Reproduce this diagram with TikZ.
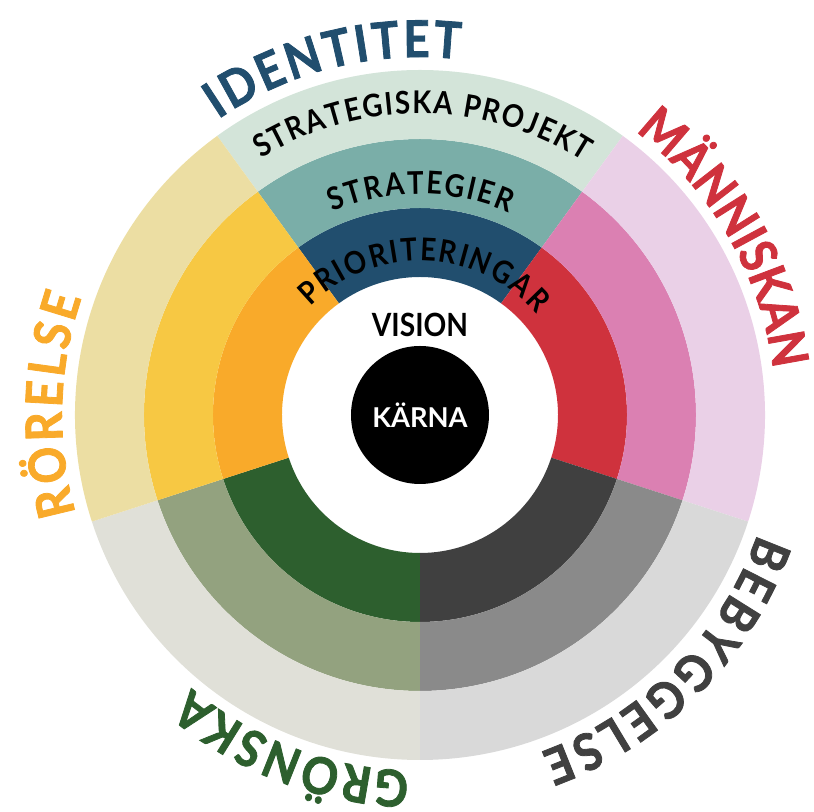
\documentclass[tikz,border=0pt]{standalone}
\usepackage{fontspec}
\setmainfont{Lato}
\newfontfamily\narrowlato{Lato}[FakeStretch=0.88]
\newfontfamily\heavylato{Lato}[FakeStretch=0.9, FakeBold=1.6]
\usetikzlibrary{decorations.text}

\definecolor{idA}{HTML}{214E6E}
\definecolor{idB}{HTML}{7AAEA8}
\definecolor{idC}{HTML}{D3E4D9}
\definecolor{roA}{HTML}{F9AA2A}
\definecolor{roB}{HTML}{F7C843}
\definecolor{roC}{HTML}{ECDEA3}
\definecolor{grA}{HTML}{2D5F2E}
\definecolor{grB}{HTML}{93A27F}
\definecolor{grC}{HTML}{E0E0D8}
\definecolor{beA}{HTML}{404040}
\definecolor{beB}{HTML}{8A8A8A}
\definecolor{beC}{HTML}{D9D9D9}
\definecolor{maA}{HTML}{CF323D}
\definecolor{maB}{HTML}{DB80B2}
\definecolor{maC}{HTML}{EAD0E7}

% one piece of a ring: colour, start angle, inner radius, outer radius
\newcommand{\ringpiece}[4]{%
  \fill[#1] (#2:#3) arc[start angle=#2, end angle={#2+72}, radius=#3]
    -- ({#2+72}:#4) arc[start angle={#2+72}, end angle=#2, radius=#4] -- cycle;}
\newcommand{\areafont}[1]{\heavylato\fontsize{38}{40}\selectfont\bfseries\color{#1}}
\newcommand{\ringfont}{\narrowlato\fontsize{23.5}{26}\selectfont\bfseries\color{black}}

\tikzset{
  arclabel/.style={decorate, decoration={text along path,
      text align=fit to path, text={#1}}},
  core/.style={circle, fill=black, minimum size=103.5pt, inner sep=0pt,
      text=white, font=\fontsize{20.5}{22}\selectfont\bfseries},
}

\begin{document}
\begin{tikzpicture}[x=0.75pt,y=0.75pt]
    \useasboundingbox (-420,-397) rectangle (394,415);

    % identitet
    \ringpiece{idA}{54}{138}{207}
    \ringpiece{idB}{54}{207}{276}
    \ringpiece{idC}{54}{276}{345}
    % manniskan
    \ringpiece{maA}{-18}{138}{207}
    \ringpiece{maB}{-18}{207}{276}
    \ringpiece{maC}{-18}{276}{345}
    % bebyggelse
    \ringpiece{beA}{270}{138}{207}
    \ringpiece{beB}{270}{207}{276}
    \ringpiece{beC}{270}{276}{345}
    % gronska
    \ringpiece{grA}{198}{138}{207}
    \ringpiece{grB}{198}{207}{276}
    \ringpiece{grC}{198}{276}{345}
    % rorelse
    \ringpiece{roA}{126}{138}{207}
    \ringpiece{roB}{126}{207}{276}
    \ringpiece{roC}{126}{276}{345}

    % centre
    \node[core] (karna) at (0,0) {KÄRNA};
    \node[font=\narrowlato\fontsize{24}{26}\selectfont\bfseries] (vision) at (0,90) {VISION};

    % ring texts
    \path[arclabel={|\ringfont|PRIORITERINGAR}] (135.3:154) arc[start angle=135.3, end angle=41, radius=154];
    \path[arclabel={|\ringfont|STRATEGIER}] (113.2:221) arc[start angle=113.2, end angle=66.2, radius=221];
    \path[arclabel={|\ringfont|STRATEGISKA PROJEKT}] (121.8:301.5) arc[start angle=121.8, end angle=57.2, radius=301.5];

    % area names
    \path[arclabel={|\areafont{idA}|IDENTITET}] (124.3:358) arc[start angle=124.3, end angle=83.6, radius=358];
    \path[arclabel={|\areafont{maA}|MÄNNISKAN}] (52.8:356) arc[start angle=52.8, end angle=7.4, radius=356];
    \path[arclabel={|\areafont{beA}|BEBYGGELSE}] (340.6:358) arc[start angle=340.6, end angle=289.7, radius=358];
    \path[arclabel={|\areafont{grA}|GRÖNSKA}] (268.3:356) arc[start angle=268.3, end angle=230.1, radius=356];
    \path[arclabel={|\areafont{roA}|RÖRELSE}] (195.9:358) arc[start angle=195.9, end angle=160.9, radius=358];
\end{tikzpicture}
\end{document}
